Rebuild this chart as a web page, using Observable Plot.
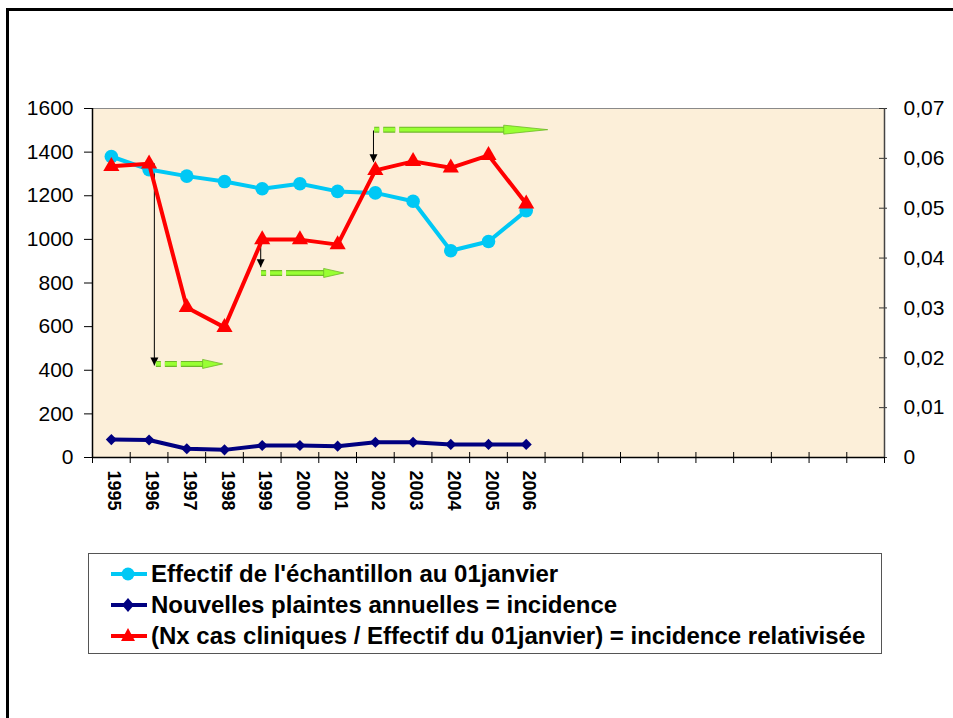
<!DOCTYPE html>
<html>
<head>
<meta charset="utf-8">
<script src="https://cdn.jsdelivr.net/npm/d3@7"></script>
<script src="https://cdn.jsdelivr.net/npm/@observablehq/plot@0.6"></script>
<style>
  html, body { margin: 0; padding: 0; background: #fff; }
  #wrap { position: relative; width: 953px; height: 718px; overflow: hidden; font-family: "Liberation Sans", Arial, sans-serif; }
  #frame { position: absolute; left: 6px; top: 8px; width: 960px; height: 720px; border-top: 3px solid #000; border-left: 3px solid #000; }
  #chart { position: absolute; left: 0; top: 0; }
  #legend { position: absolute; left: 88px; top: 553px; width: 792px; height: 99px; border: 1px solid #555; background: #fff; }
  .item { position: absolute; left: 20px; height: 28px; display: flex; align-items: center; font-weight: bold; font-size: 24px; color: #000; white-space: nowrap; }
  .item svg { margin-right: 2px; }
</style>
</head>
<body>
<div id="wrap">
  <div id="frame"></div>
  <div id="chart"></div>
  <div id="legend"></div>
</div>
<script>
// ---- data ----
const years = [1995, 1996, 1997, 1998, 1999, 2000, 2001, 2002, 2003, 2004, 2005, 2006];
const effectif = [1380, 1320, 1290, 1265, 1232, 1255, 1220, 1213, 1175, 948, 990, 1132];
const incidence = [82, 80, 40, 35, 55, 55, 52, 70, 70, 60, 60, 60];
const relative = [0.0584, 0.0589, 0.0301, 0.0261, 0.0437, 0.0437, 0.0427, 0.0576, 0.0594, 0.0581, 0.0606, 0.0509];
const leftTicks = [0, 200, 400, 600, 800, 1000, 1200, 1400, 1600];
const rightTicks = [0, 0.01, 0.02, 0.03, 0.04, 0.05, 0.06, 0.07];
const slotYears = d3.range(1995, 2016); // 21 category slots on the axis
const seriesNames = [
  "Effectif de l'échantillon au 01janvier",
  "Nouvelles plaintes annuelles = incidence",
  "(Nx cas cliniques / Effectif du 01janvier) = incidence relativisée"
];
// annotation arrows (data coordinates: year, left-axis value)
const pointerX = [1996.14, 1998.96, 2001.95];
const pointerTop = [1348, 1000, 1499];
const pointerTip = [422, 872, 1354];
const greenY = [429, 846, 1503];
const greenStart = [1996.18, 1998.97, 2001.97];
const greenEnd = [1997.95, 2001.16, 2006.57];

// ---- build ----
const leftMax = 1600, rightMax = 0.07;
const ratio = leftMax / rightMax;
const rows = years.map((y, i) => ({year: y, eff: effectif[i], inc: incidence[i], rel: relative[i] * ratio}));
const boundaries = [slotYears[0] - 0.5, ...slotYears.map(y => y + 0.5)];
const pointers = pointerX.map((x, i) => ({x, y1: pointerTop[i], y2: pointerTip[i]}));
const greens = greenY.map((y, i) => ({y, x1: greenStart[i], x2: greenEnd[i], long: i === 2}));

const cyan = "#00c8f5", navy = "#000080", red = "#ff0000", green = "#99ff33";

function headRight(len, half) {
  return {draw(ctx) { ctx.moveTo(0, 0); ctx.lineTo(-len, -half); ctx.lineTo(-len, half); ctx.closePath(); }};
}
const headDown = {draw(ctx) { ctx.moveTo(0, 0); ctx.lineTo(-4, -8); ctx.lineTo(4, -8); ctx.closePath(); }};
const fmtRight = d => { const v = Math.round(d / ratio * 100) / 100; return v === 0 ? "0" : v.toFixed(2).replace(".", ","); };

const chart = Plot.plot({
  width: 953, height: 540,
  marginLeft: 92, marginRight: 69, marginTop: 108, marginBottom: 83,
  x: {domain: [boundaries[0], boundaries[boundaries.length - 1]], axis: null},
  y: {domain: [0, leftMax], axis: null},
  style: {fontFamily: "'Liberation Sans', Arial, sans-serif", background: "transparent", color: "#000"},
  marks: [
    Plot.frame({fill: "#fcefd9", stroke: "#8a8a8a"}),
    // axes
    Plot.axisY({anchor: "left", ticks: leftTicks, tickSize: 8, tickPadding: 11, fontSize: 21, tickFormat: d => String(d), label: null, stroke: "#000"}),
    Plot.axisY({anchor: "right", ticks: rightTicks.map(t => t * ratio), tickSize: 8, tickPadding: 17, dx: -6, fontSize: 21, tickFormat: fmtRight, label: null, stroke: "#333"}),
    Plot.axisX({ticks: boundaries, tickSize: 11, dy: -5, tickFormat: () => "", label: null, stroke: "#000"}),
    Plot.ruleX([boundaries[0]], {stroke: "#000", strokeWidth: 1.5}),
    Plot.ruleX([boundaries[boundaries.length - 1]], {stroke: "#444", strokeWidth: 1.5}),
    Plot.ruleY([0], {stroke: "#000", strokeWidth: 1.5}),
    Plot.text(years, {x: d => d, text: d => String(d), frameAnchor: "bottom", dy: 13, dx: -3, rotate: 90, textAnchor: "start", fontWeight: "bold", fontSize: 18}),
    // annotations
    Plot.link(pointers, {x1: "x", x2: "x", y1: "y1", y2: "y2", stroke: "#000", strokeWidth: 1}),
    Plot.dot(pointers, {x: "x", y: "y2", symbol: headDown, r: 4, fill: "#000", stroke: null}),
    Plot.link(greens, {x1: "x1", x2: d => d.x2 - (d.long ? 1.1 : 0.45), y1: "y", y2: "y", stroke: "#6fb82a", strokeWidth: 6, strokeDasharray: "5,4,12,4,2000"}),
    Plot.link(greens, {x1: "x1", x2: d => d.x2 - (d.long ? 1.1 : 0.45), y1: "y", y2: "y", stroke: green, strokeWidth: 3.6, strokeDasharray: "5,4,12,4,2000"}),
    Plot.dot(greens.filter(d => !d.long), {x: "x2", y: "y", symbol: headRight(20, 4.5), r: 4, fill: green, stroke: "#6fb82a", strokeWidth: 0.8}),
    Plot.dot(greens.filter(d => d.long), {x: "x2", y: "y", symbol: headRight(44, 4.5), r: 4, fill: green, stroke: "#6fb82a", strokeWidth: 0.8}),
    // series
    Plot.line(rows, {x: "year", y: "eff", stroke: cyan, strokeWidth: 4}),
    Plot.dot(rows, {x: "year", y: "eff", r: 6.8, fill: cyan, stroke: null}),
    Plot.line(rows, {x: "year", y: "inc", stroke: navy, strokeWidth: 4}),
    Plot.dot(rows, {x: "year", y: "inc", symbol: "diamond2", r: 5, fill: navy, stroke: null}),
    Plot.line(rows, {x: "year", y: "rel", stroke: red, strokeWidth: 4}),
    Plot.dot(rows, {x: "year", y: "rel", symbol: "triangle", r: 6, fill: red, stroke: null})
  ]
});
document.getElementById("chart").appendChild(chart);

// legend
const legend = document.getElementById("legend");
const symbols = [
  `<circle cx="19" cy="14" r="6.5" fill="${cyan}"/>`,
  `<path d="M19 7 L25 14 L19 21 L13 14 Z" fill="${navy}"/>`,
  `<path d="M19 6 L26 19 L12 19 Z" fill="${red}"/>`
];
const colors = [cyan, navy, red];
const tops = [6, 37, 68];
seriesNames.forEach((name, i) => {
  const div = document.createElement("div");
  div.className = "item";
  div.style.top = tops[i] + "px";
  div.innerHTML = `<svg width="40" height="28"><line x1="2" x2="38" y1="14" y2="14" stroke="${colors[i]}" stroke-width="4"/>${symbols[i]}</svg><span>${name}</span>`;
  legend.appendChild(div);
});
</script>
</body>
</html>
